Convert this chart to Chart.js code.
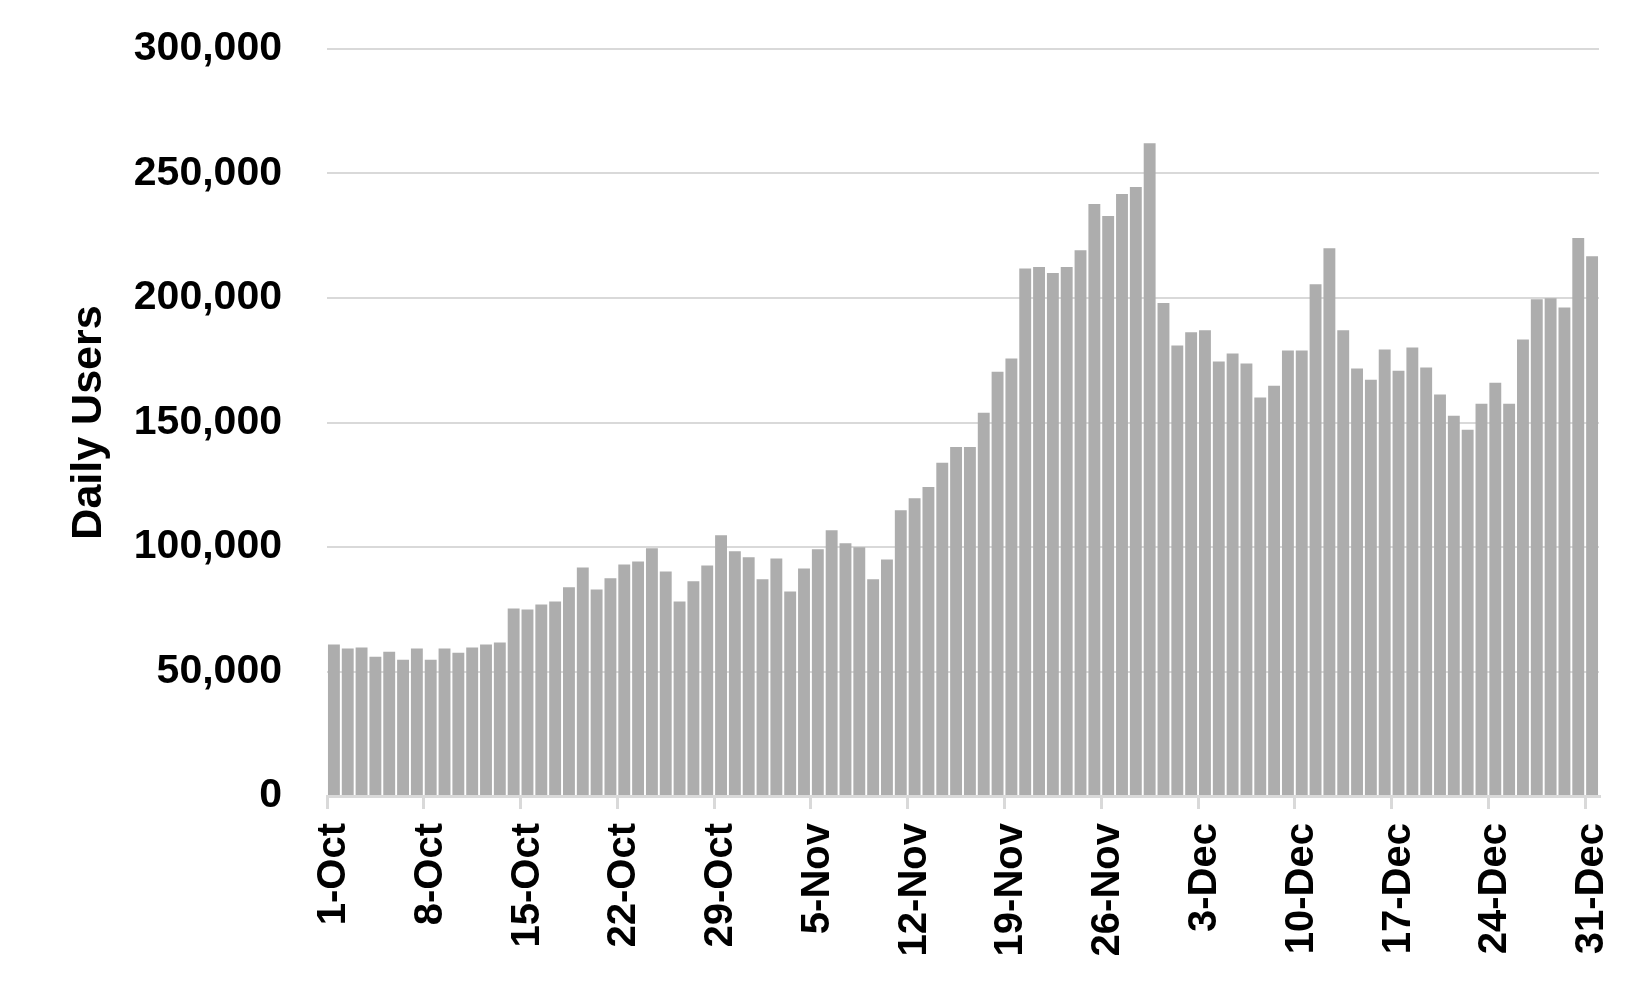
<!DOCTYPE html>
<html>
<head>
<meta charset="utf-8">
<title>Daily Users</title>
<script src="https://cdn.jsdelivr.net/npm/chart.js@4/dist/chart.umd.min.js"></script>
<style>
    html, body { margin: 0; padding: 0; background: #fff; }
    #wrap { width: 1650px; height: 990px; }
</style>
</head>
<body>
<div id="wrap"><canvas id="usersChart" width="1650" height="990"></canvas></div>
<script>
// Daily users, 1 Oct - 31 Dec
const months = ['Oct', 'Nov', 'Dec'];
const daysInMonth = [31, 30, 31];

const octUsers = [
    60800, 59200, 59600, 55900, 57900, 54700, 59200, 54700, 59200, 57500,
    59600, 60800, 61600, 75300, 74900, 76900, 78100, 83800, 91800, 82900,
    87400, 93000, 94200, 99500, 90200, 78100, 86200, 92600, 104700, 98300,
    95900
];
const novUsers = [
    87000, 95400, 82100, 91400, 99100, 106700, 101500, 99900, 87000, 95000,
    114800, 119600, 124100, 133800, 140200, 140200, 153900, 170400, 175700, 211800,
    212400, 210000, 212400, 219200, 237800, 232900, 241800, 244600, 262100, 198000
];
const decUsers = [
    180900, 186200, 187000, 174500, 177700, 173700, 160000, 164800, 178900, 178900,
    205500, 220000, 187000, 171700, 167200, 179300, 170800, 180100, 172100, 161200,
    152700, 147100, 157500, 166000, 157500, 183300, 199500, 199900, 196200, 224100,
    216800
];

const yTicks = [0, 50000, 100000, 150000, 200000, 250000, 300000];
const labelEvery = 7;

const categories = [];
months.forEach((m, i) => {
    for (let d = 1; d <= daysInMonth[i]; d++) categories.push(`${d}-${m}`);
});
const users = [...octUsers, ...novUsers, ...decUsers];

const fontFamily = "'Liberation Sans', Arial, sans-serif";
const gridGrey = '#d9d9d9';

new Chart(document.getElementById('usersChart').getContext('2d'), {
    type: 'bar',
    data: {
        labels: categories,
        datasets: [{
            label: 'Daily Users',
            data: users,
            backgroundColor: '#adadad',
            borderWidth: 0,
            barPercentage: 0.86,
            categoryPercentage: 1.0
        }]
    },
    options: {
        responsive: false,
        animation: false,
        layout: { padding: { top: 49, right: 51, bottom: 0, left: 0 } },
        plugins: {
            legend: { display: false },
            tooltip: { enabled: false }
        },
        scales: {
            x: {
                offset: true,
                grid: {
                    offset: true,
                    drawOnChartArea: false,
                    drawTicks: true,
                    tickLength: 13,
                    lineWidth: 3,
                    color: ctx => (ctx.index % labelEvery === 0 ? gridGrey : 'rgba(0,0,0,0)')
                },
                border: { display: true, color: gridGrey, width: 3 },
                ticks: {
                    autoSkip: false,
                    minRotation: 90,
                    maxRotation: 90,
                    padding: 14,
                    color: '#000',
                    font: { family: fontFamily, size: 40, weight: 'bold' },
                    callback: function (value, index) {
                        return index % labelEvery === 0 ? this.getLabelForValue(value) : '';
                    }
                },
                afterFit: scale => {
                    scale.height = 194;
                    // don't let the rotated labels reserve extra room at the sides
                    scale.paddingLeft = 0;
                    scale.paddingRight = 0;
                }
            },
            y: {
                min: 0,
                max: 300000,
                afterBuildTicks: scale => { scale.ticks = yTicks.map(v => ({ value: v })); },
                // gap between labels and plot comes from an invisible tick mark,
                // so it does not push the plot area down
                grid: {
                    color: gridGrey,
                    lineWidth: 2,
                    drawTicks: true,
                    tickLength: 45,
                    tickColor: 'rgba(0,0,0,0)'
                },
                border: { display: false },
                ticks: {
                    padding: 0,
                    color: '#000',
                    font: { family: fontFamily, size: 41, weight: 'bold' },
                    callback: v => v.toLocaleString('en-US')
                },
                title: {
                    display: true,
                    text: 'Daily Users',
                    color: '#000',
                    font: { family: fontFamily, size: 43, weight: 'bold' },
                    padding: { top: 63, bottom: 0 }
                },
                afterFit: scale => { scale.width = 327; }
            }
        }
    }
});
</script>
</body>
</html>
